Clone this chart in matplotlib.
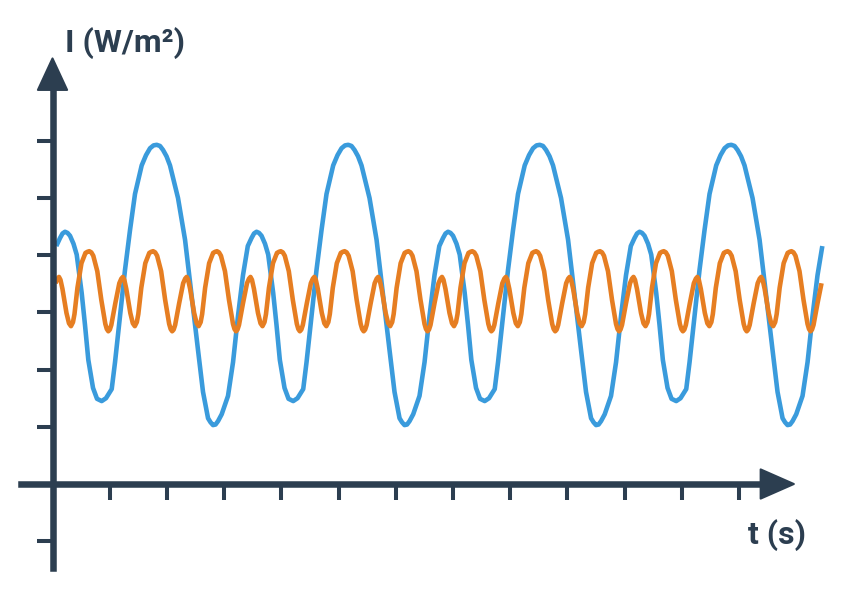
import numpy as np
import matplotlib.pyplot as plt
from matplotlib.patches import Polygon

# one period of each wave (t and I in tick units)
blue_t = [0.066, 0.131, 0.175, 0.219, 0.262, 0.306, 0.367, 0.423, 0.510, 0.568,
          0.626, 0.708, 0.778, 0.860, 0.935, 1.035, 1.093, 1.180, 1.267, 1.355,
          1.442, 1.559, 1.635, 1.705, 1.766, 1.822, 1.879, 1.932, 1.993, 2.054,
          2.194, 2.317, 2.434, 2.544, 2.631, 2.719, 2.762, 2.806, 2.850, 2.894,
          2.958, 3.068, 3.156, 3.243, 3.330]
blue_i = [4.16, 4.30, 4.38, 4.41, 4.39, 4.34, 4.20, 4.01, 3.34, 2.78,
          2.17, 1.68, 1.49, 1.45, 1.50, 1.66, 2.13, 2.94, 3.74, 4.44,
          5.07, 5.57, 5.75, 5.87, 5.92, 5.93, 5.91, 5.84, 5.73, 5.57,
          5.00, 4.27, 3.27, 2.34, 1.61, 1.15, 1.08, 1.03, 1.04, 1.10,
          1.22, 1.54, 2.13, 2.94, 3.65]
blue_period = 3.348

orange_t = [0.643, 0.678, 0.713, 0.783, 0.853, 0.923, 0.949, 0.976, 1.002, 1.028,
            1.098, 1.168, 1.203, 1.229, 1.255, 1.290, 1.360, 1.404, 1.439, 1.474,
            1.500, 1.552, 1.622, 1.692, 1.727]
orange_i = [4.07, 4.05, 3.99, 3.72, 3.22, 2.80, 2.71, 2.67, 2.70, 2.78,
            3.16, 3.51, 3.59, 3.62, 3.57, 3.41, 2.99, 2.81, 2.76, 2.83,
            2.97, 3.43, 3.86, 4.04, 4.06]
orange_period = 1.116

t_start, t_end = 0.05, 13.47
xticks = list(range(1, 13))
yticks = [-1, 1, 2, 3, 4, 5, 6]

navy = '#2c3e50'
blue = '#3a9bdc'
orange = '#e67e22'


def repeat_wave(t, i, period, first, count):
    tt = np.concatenate([np.asarray(t) + k * period for k in range(first, first + count)])
    ii = np.tile(i, count)
    keep = (tt >= t_start) & (tt <= t_end)
    return tt[keep], ii[keep]


fig = plt.figure(figsize=(8.42, 5.96), dpi=100)
ax = fig.add_axes([0, 0, 1, 1])
ax.set_xlim(-0.918, 13.802)
ax.set_ylim(-1.958, 8.462)

bt, bi = repeat_wave(blue_t, blue_i, blue_period, 0, 5)
ot, oi = repeat_wave(orange_t, orange_i, orange_period, -1, 13)
ax.plot(bt, bi, color=blue, lw=3.3, solid_joinstyle='round', solid_capstyle='butt', zorder=3)
ax.plot(ot, oi, color=orange, lw=3.3, solid_joinstyle='round', solid_capstyle='butt', zorder=4)

# axes through the origin
for side in ['top', 'right']:
    ax.spines[side].set_visible(False)
ax.spines['left'].set_position(('data', 0))
ax.spines['bottom'].set_position(('data', 0))
ax.spines['left'].set_bounds(-1.47, 6.95)
ax.spines['bottom'].set_bounds(-0.55, 12.4)
for side in ['left', 'bottom']:
    ax.spines[side].set_linewidth(4.7)
    ax.spines[side].set_color(navy)
    ax.spines[side].set_zorder(5)

ax.set_xticks(xticks)
ax.set_yticks(yticks)
ax.tick_params(direction='out', length=11.3, width=2.9, color=navy,
               labelbottom=False, labelleft=False)

# arrow heads
ax.add_patch(Polygon([[0, 7.44], [-0.255, 6.89], [0.255, 6.89]], closed=True,
                     facecolor=navy, edgecolor=navy, lw=1.5, joinstyle='round',
                     clip_on=False, zorder=6))
ax.add_patch(Polygon([[12.96, 0], [12.38, 0.255], [12.38, -0.255]], closed=True,
                     facecolor=navy, edgecolor=navy, lw=1.5, joinstyle='round',
                     clip_on=False, zorder=6))

ax.text(0.22, 7.55, 'I (W/m²)', fontsize=23, fontweight='bold', family=['Roboto', 'DejaVu Sans'],
        color=navy, ha='left', va='baseline')
ax.text(12.16, -1.04, 't (s)', fontsize=23, fontweight='bold', family=['Roboto', 'DejaVu Sans'],
        color=navy, ha='left', va='baseline')

fig.savefig('out.png', dpi=100)
